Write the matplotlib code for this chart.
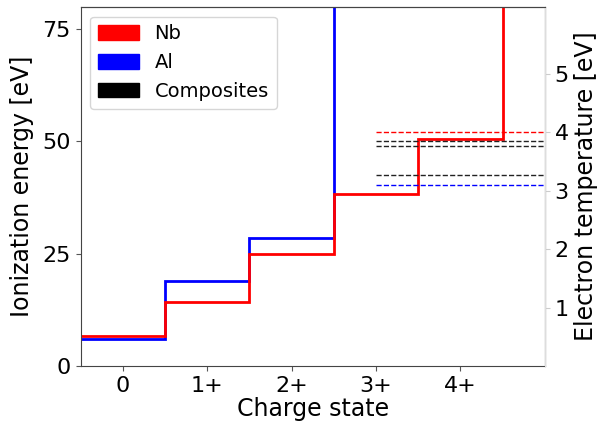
import matplotlib
matplotlib.use("Agg")
import matplotlib.pyplot as plt
from matplotlib.patches import Patch

# Ionization energies [eV] per charge state
charge_labels = ["0", "1+", "2+", "3+", "4+"]
nb_energy = [6.76, 14.32, 25.04, 38.3, 50.55, 102.57]
al_energy = [5.99, 18.83, 28.45, 119.99]

# Electron temperatures [eV] (right axis)
nb_te = [4.01]
al_te = [3.10]
comp_te = [3.85, 3.77, 3.27]

fig = plt.figure(figsize=(6.02, 4.25), dpi=100)
ax = fig.add_axes([0.134, 0.139, 0.771, 0.845])

ax.stairs(al_energy, [i - 0.5 for i in range(len(al_energy) + 1)],
          baseline=None, color="blue", lw=2)
ax.stairs(nb_energy, [i - 0.5 for i in range(len(nb_energy) + 1)],
          baseline=None, color="red", lw=2)

ax.set_xlim(-0.5, 5)
ax.set_ylim(0, 80)
ax.set_xticks(range(len(charge_labels)))
ax.set_xticklabels(charge_labels)
ax.set_yticks([0, 25, 50, 75])
ax.tick_params(labelsize=16, color="#555555")
ax.set_xlabel("Charge state", fontsize=17, labelpad=1)
ax.set_ylabel("Ionization energy [eV]", fontsize=17, labelpad=6)
for s in ["left", "bottom", "top"]:
    ax.spines[s].set_color("#444444")

ax2 = ax.twinx()
ax2.set_ylim(0, 80 / 13)
ax2.hlines(nb_te, 3, 5, colors="red", linestyles="dashed", lw=1)
ax2.hlines(comp_te, 3, 5, colors="#222222", linestyles="dashed", lw=1)
ax2.hlines(al_te, 3, 5, colors="blue", linestyles="dashed", lw=1)
ax2.set_yticks([1, 2, 3, 4, 5])
ax2.tick_params(labelsize=16, color="#cccccc")
ax2.set_ylabel("Electron temperature [eV]", fontsize=17, labelpad=4)
ax2.spines["right"].set_color("#dddddd")
ax2.spines["top"].set_color("#444444")
for s in ["left", "bottom"]:
    ax2.spines[s].set_visible(False)

handles = [Patch(color="red", label="Nb"),
           Patch(color="blue", label="Al"),
           Patch(color="black", label="Composites")]
ax.legend(handles=handles, loc="upper left", fontsize=14,
          handlelength=2.1, handleheight=0.8)

fig.savefig("out.png", dpi=100)
